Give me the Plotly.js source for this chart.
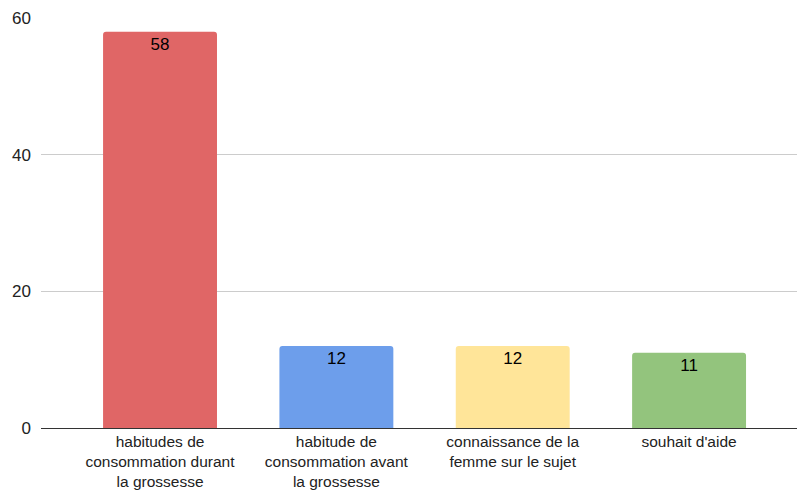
<!DOCTYPE html>
<html>
<head>
<meta charset="utf-8">
<script src="https://cdn.plot.ly/plotly-3.0.1.min.js"></script>
<style>html,body{margin:0;padding:0;background:#fff;}#chart{width:797px;height:490px;}</style>
</head>
<body>
<div id="chart"></div>
<script>
var categories = [
  "habitudes de<br>consommation durant<br>la grossesse",
  "habitude de<br>consommation avant<br>la grossesse",
  "connaissance de la<br>femme sur le sujet",
  "souhait d'aide"
];
var values = [58, 12, 12, 11];
var colors = ["#e06666", "#6d9eeb", "#ffe599", "#93c47d"];
var yTicks = [0, 20, 40, 60];

var trace = {
  type: "bar",
  x: categories,
  y: values,
  text: values.map(String),
  textposition: "inside",
  insidetextanchor: "end",
  textangle: 0,
  textfont: {family: "Liberation Sans, Arial, sans-serif", size: 17, color: "#000"},
  marker: {color: colors, cornerradius: 3},
  hoverinfo: "none"
};

var layout = {
  width: 797, height: 490,
  margin: {l: 41, r: 0, t: 18, b: 62},
  paper_bgcolor: "#fff", plot_bgcolor: "#fff",
  bargap: 0.354,
  showlegend: false,
  font: {family: "Liberation Sans, Arial, sans-serif", size: 16, color: "#222"},
  xaxis: {
    range: [-0.675, 3.612],
    showgrid: false,
    zeroline: false,
    showline: false,
    ticks: "",
    ticklabelstandoff: 2,
    tickfont: {size: 15.5, color: "#222"},
    fixedrange: true
  },
  yaxis: {
    range: [0, 60],
    tickvals: yTicks,
    ticktext: yTicks.map(String),
    showgrid: true,
    gridcolor: "#cccccc",
    zeroline: true,
    zerolinecolor: "#333333",
    zerolinewidth: 1,
    showline: false,
    ticks: "",
    ticklabelstandoff: 9,
    tickfont: {size: 17, color: "#222"},
    fixedrange: true
  }
};

Plotly.newPlot("chart", [trace], layout, {displayModeBar: false, staticPlot: true});
</script>
</body>
</html>
